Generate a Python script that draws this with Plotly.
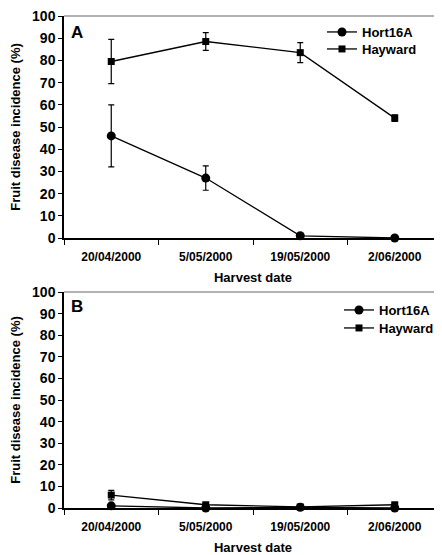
import plotly.graph_objects as go

dates = ["20/04/2000", "5/05/2000", "19/05/2000", "2/06/2000"]
y_ticks = [0, 10, 20, 30, 40, 50, 60, 70, 80, 90, 100]

# Panel A
a_hort = [46, 27, 1, 0]
a_hort_err = [14, 5.5, 0.5, 0]
a_hay = [79.5, 88.5, 83.5, 54]
a_hay_err = [10, 4, 4.5, 1.5]

# Panel B
b_hort = [1, 0, 0.3, 0]
b_hort_err = [0.3, 0, 0.2, 0]
b_hay = [6, 1.5, 0.5, 1.5]
b_hay_err = [2.2, 0.5, 0.3, 0.5]

OFF = 8  # default page body margin
H = 555 - OFF
W = 442 - OFF
FONT = "Liberation Sans, Arial, sans-serif"

fig = go.Figure()

def add_series(y, err, name, symbol, size, xa, ya, legend, show=True):
    fig.add_trace(go.Scatter(
        x=dates, y=y, name=name, mode="lines+markers",
        line=dict(color="black", width=1.3),
        marker=dict(symbol=symbol, size=size, color="black"),
        error_y=dict(type="data", array=err, visible=True, color="black", thickness=1.2, width=3),
        xaxis=xa, yaxis=ya, legend=legend, showlegend=show, cliponaxis=False,
    ))

add_series(a_hort, a_hort_err, "Hort16A", "circle", 9, "x", "y", "legend")
add_series(a_hay, a_hay_err, "Hayward", "square", 7, "x", "y", "legend2")
add_series(b_hort, b_hort_err, "Hort16A", "circle", 9, "x2", "y2", "legend3")
add_series(b_hay, b_hay_err, "Hayward", "square", 7, "x2", "y2", "legend4")

def px_y(p):
    return (H - (p - OFF)) / H

def px_x(p):
    return (p - OFF) / W

top_a, bot_a = 16, 238
top_b, bot_b = 292, 508
left = 64

def xaxis_cfg(anchor, standoff):
    return dict(
        type="category", categoryorder="array", categoryarray=dates,
        range=[-0.5, 3.5], domain=[px_x(left), 1.0], automargin=False, anchor=anchor,
        showline=True, linecolor="black", linewidth=1.5,
        ticks="outside", ticklen=5, tickcolor="black", tickwidth=1.2,
        tickson="boundaries", showgrid=False, zeroline=False,
        ticklabelstandoff=7, ticklabeloverflow="allow",
        tickfont=dict(family=FONT, size=12, color="black", weight="bold"),
        title=dict(text="<b>Harvest date</b>", font=dict(family=FONT, size=13, color="black"), standoff=standoff),
    )

def yaxis_cfg(anchor, top, bot):
    return dict(
        range=[0, 100], tickmode="array", tickvals=y_ticks, automargin=False, anchor=anchor,
        domain=[px_y(bot), px_y(top)],
        showline=True, linecolor="black", linewidth=1.5,
        ticks="outside", ticklen=4, tickcolor="black", tickwidth=1.2,
        showgrid=False, zeroline=False, ticklabeloverflow="allow",
        tickfont=dict(family=FONT, size=14, color="black", weight="bold"),
        title=dict(text="<b>Fruit disease incidence (%)</b>", font=dict(family=FONT, size=13, color="black"), standoff=11),
    )

def leg(xp, yp):
    return dict(x=px_x(xp), y=px_y(yp), xanchor="left", yanchor="middle", itemwidth=30,
                font=dict(family=FONT, size=13, color="black", weight="bold"),
                bgcolor="rgba(0,0,0,0)", tracegroupgap=0)

fig.update_layout(
    width=W, height=H,
    margin=dict(l=0, r=0, t=0, b=0),
    paper_bgcolor="white", plot_bgcolor="white",
    xaxis=xaxis_cfg("y", 10),
    yaxis=yaxis_cfg("x", top_a, bot_a),
    xaxis2=xaxis_cfg("y2", 14),
    yaxis2=yaxis_cfg("x2", top_b, bot_b),
    legend=leg(322, 32),
    legend2=leg(322, 49),
    legend3=leg(339, 310),
    legend4=leg(339, 328),
    showlegend=True,
)

# top frame lines
for top in [top_a, top_b]:
    fig.add_shape(type="line", xref="paper", yref="paper",
                  x0=px_x(left), x1=1.0, y0=px_y(top), y1=px_y(top),
                  line=dict(color="#666666", width=1.2))

fig.add_annotation(text="<b>A</b>", xref="paper", yref="paper", x=px_x(69), y=px_y(21),
                   xanchor="left", yanchor="top", showarrow=False,
                   font=dict(family=FONT, size=17, color="black"))
fig.add_annotation(text="<b>B</b>", xref="paper", yref="paper", x=px_x(69), y=px_y(295),
                   xanchor="left", yanchor="top", showarrow=False,
                   font=dict(family=FONT, size=17, color="black"))

fig.write_html("out.html")
